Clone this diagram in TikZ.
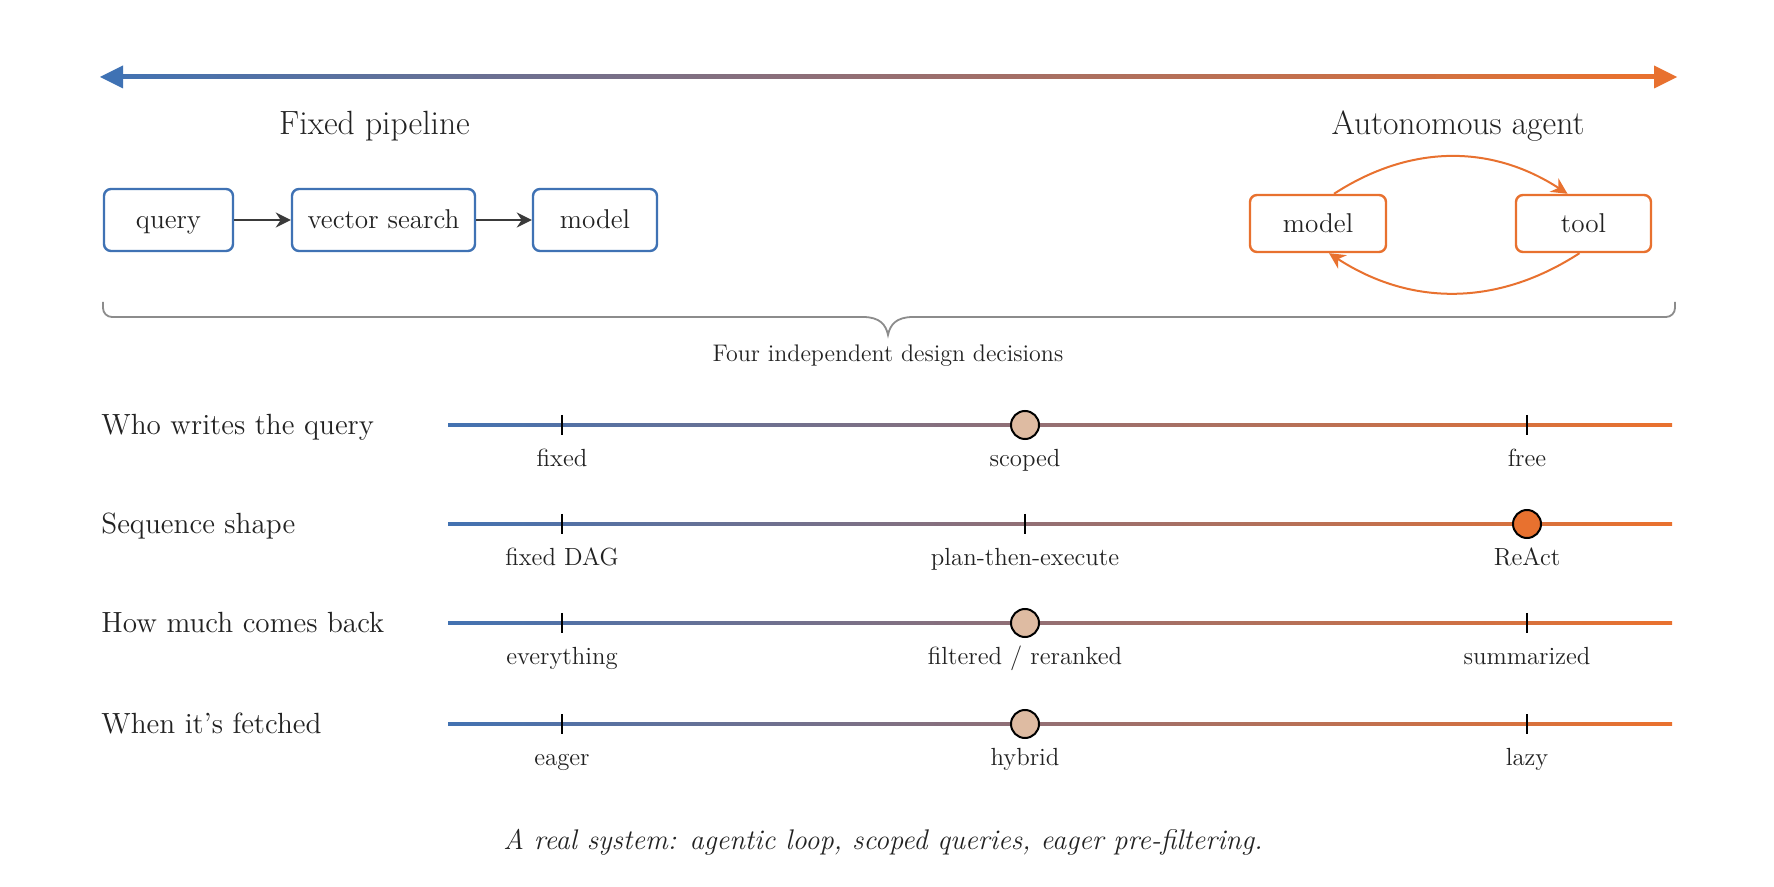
\documentclass[tikz,border=0pt]{standalone}
\usetikzlibrary{arrows.meta}
\definecolor{cblue}{HTML}{3F72B4}
\definecolor{corange}{HTML}{E8712F}
\definecolor{cmid}{HTML}{936F74}
\definecolor{ctan}{HTML}{DEBBA2}
\definecolor{cgray}{HTML}{8C8C8C}
\definecolor{ctext}{HTML}{222222}
\definecolor{cdark}{HTML}{3A3A3A}
\pgfdeclarehorizontalshading{bo}{100bp}{color(0bp)=(cblue); color(24bp)=(cblue); color(49bp)=(cmid); color(74bp)=(corange); color(100bp)=(corange)}
\begin{document}
\begin{tikzpicture}[x=0.5pt,y=-0.5pt,
  txt/.style={text=ctext, inner sep=0pt},
  big/.style={txt, font=\fontsize{16.8}{19}\selectfont},
  rowlab/.style={txt, font=\fontsize{14.6}{17}\selectfont, anchor=mid west},
  ticklab/.style={txt, font=\fontsize{12.4}{15}\selectfont, anchor=mid},
  boxtxt/.style={fill=white, text=ctext, font=\fontsize{13.6}{16}\selectfont, inner sep=0pt, text height=11.3pt, text depth=2.5pt},
  boxb/.style={boxtxt, draw=cblue, line width=1.2pt, rounded corners=3.5pt, minimum height=31pt},
  boxo/.style={boxtxt, draw=corange, line width=1.2pt, rounded corners=3.5pt, minimum height=28.5pt},
  darr/.style={draw=cdark, line width=1pt, -{Stealth[length=7.5pt,width=7.5pt]}},
  oarr/.style={draw=corange, line width=1pt, -{Stealth[length=8pt,width=8pt]}},
  tickmark/.style={draw=black, line width=0.8pt},
  mk/.style={circle, draw=black, line width=1pt, minimum size=14pt, inner sep=0pt},
  bracestyle/.style={draw=cgray, line width=0.9pt},
]
\useasboundingbox (0,0) rectangle (1774,887);
\fill[white] (0,0) rectangle (1774,887);

% top gradient arrow
\shade[shading=bo] (118,75) rectangle (1660,79);
\fill[cblue] (100,77) -- (123,65.5) -- (123,88.5) -- cycle;
\fill[corange] (1677,77) -- (1654,65.5) -- (1654,88.5) -- cycle;

\node[big] (fp) at (374.5,126.5) {Fixed pipeline};
\node[big] (aa) at (1458,126.5) {Autonomous agent};

% fixed pipeline boxes
\node[boxb, minimum width=64.5pt] (q) at (168.5,220) {query};
\node[boxb, minimum width=91.5pt] (vs) at (383.5,220) {vector search};
\node[boxb, minimum width=62pt] (m) at (595,220) {model};
\draw[darr] (q) -- (vs);
\draw[darr] (vs) -- (m);

% agent loop
\node[boxo, minimum width=68pt] (am) at (1318,223.5) {model};
\node[boxo, minimum width=67.5pt] (tl) at (1583.5,223.5) {tool};
\draw[oarr] ([xshift=8pt]am.north) to[bend left=33] ([xshift=-8pt]tl.north);
\draw[oarr] ([xshift=-2pt]tl.south) to[bend left=33] ([xshift=5.5pt]am.south);

% brace
\coordinate (brL) at (103,302);
\coordinate (brR) at (1675,302);
\coordinate (brT) at (888,335);
\draw[bracestyle] (brL) -- (103,308) .. controls (103,313) and (107,317) .. (112,317)
  -- (863,317) .. controls (880,317) and (886,325) .. (brT)
  .. controls (890,325) and (896,317) .. (913,317)
  -- (1666,317) .. controls (1671,317) and (1675,313) .. (1675,308) -- (brR);
\node[txt, font=\fontsize{12}{14}\selectfont] (fidd) at (888,356) {Four independent design decisions};

% rows
\foreach \y in {425,524,623,724}{
  \shade[shading=bo] (448,\y-1.6) rectangle (1672,\y+1.6);
}
% row 1
\node[rowlab] (r1) at (101,430) {Who writes the query};
\draw[tickmark] (562,415) -- (562,435);
\draw[tickmark] (1527,415) -- (1527,435);
\node[mk, fill=ctan] (c1) at (1025,425) {};
\node[ticklab] (l11) at (562,462) {fixed};
\node[ticklab] (l12) at (1025,462) {scoped};
\node[ticklab] (l13) at (1527,462) {free};
% row 2
\node[rowlab] (r2) at (101,529) {Sequence shape};
\draw[tickmark] (562,514) -- (562,534);
\draw[tickmark] (1025,514) -- (1025,534);
\node[mk, fill=corange] (c2) at (1527,524) {};
\node[ticklab] (l21) at (562,561) {fixed DAG};
\node[ticklab] (l22) at (1025,561) {plan-then-execute};
\node[ticklab] (l23) at (1527,561) {ReAct};
% row 3
\node[rowlab] (r3) at (101,628) {How much comes back};
\draw[tickmark] (562,613) -- (562,633);
\draw[tickmark] (1527,613) -- (1527,633);
\node[mk, fill=ctan] (c3) at (1025,623) {};
\node[ticklab] (l31) at (562,660) {everything};
\node[ticklab] (l32) at (1025,660) {filtered / reranked};
\node[ticklab] (l33) at (1527,660) {summarized};
% row 4
\node[rowlab] (r4) at (101,729) {When it’s fetched};
\draw[tickmark] (562,714) -- (562,734);
\draw[tickmark] (1527,714) -- (1527,734);
\node[mk, fill=ctan] (c4) at (1025,724) {};
\node[ticklab] (l41) at (562,761) {eager};
\node[ticklab] (l42) at (1025,761) {hybrid};
\node[ticklab] (l43) at (1527,761) {lazy};

% caption
\node[txt, font=\fontsize{14.2}{17}\itshape] (cap) at (883,842) {A real system: agentic loop, scoped queries, eager pre-filtering.};
\end{tikzpicture}
\end{document}
